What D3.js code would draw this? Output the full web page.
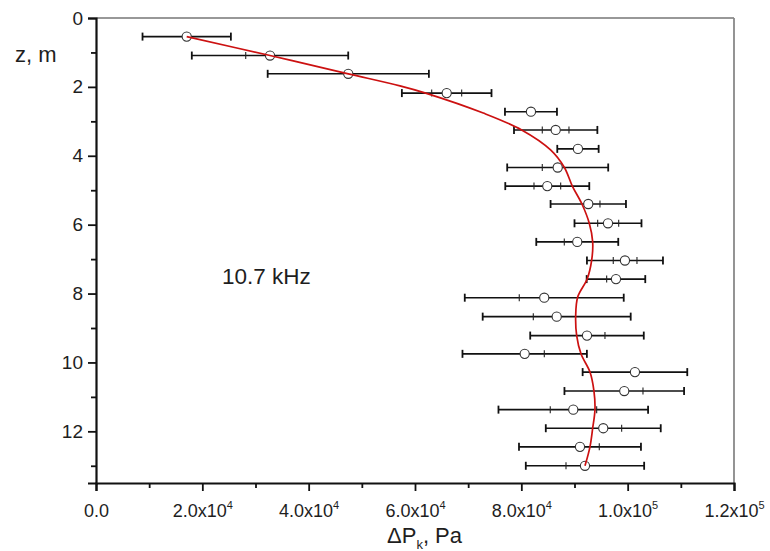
<!DOCTYPE html>
<html>
<head>
<meta charset="utf-8">
<script src="https://cdn.jsdelivr.net/npm/d3@7"></script>
<style>
  body { margin: 0; background: #fff; }
  svg text { font-family: Arial, "Liberation Sans", sans-serif; fill: #1e1e1e; }
</style>
</head>
<body>
<script>
var width = 770,
  height = 551;

var margin = { top: 18, right: 36, bottom: 68, left: 96 };

// measured points: depth (m), pressure (Pa), full error half-width (Pa)
var depth = [0.54, 1.09, 1.62, 2.18, 2.72, 3.25, 3.80, 4.34, 4.88, 5.40, 5.96, 6.50,
  7.04, 7.58, 8.12, 8.67, 9.22, 9.75, 10.28, 10.83, 11.37, 11.91, 12.45, 13.00];
var pressure = [17060, 32730, 47450, 65960, 81810, 86460, 90650, 86840, 84880, 92590, 96300, 90520,
  99490, 97800, 84310, 86650, 92350, 80630, 101370, 99360, 89770, 95410, 91030, 91970];
var errFull = [8310, 14710, 15160, 8430, 4890, 7840, 3890, 9500, 7900, 7090, 6300, 7710,
  7150, 5510, 14950, 13920, 10680, 11700, 9840, 11250, 14070, 10810, 11470, 11130];

// small inner ticks on the bars (null = not visible)
var innerLo = [null, 28160, null, 63140, null, 83940, null, 83940, 82380, null, 94360, 88080,
  97290, 96050, 79610, 82250, null, null, null, null, 85440, null, null, 88400];
var innerHi = [null, null, null, 68780, null, 88960, null, null, 87400, 94790, 98310, null,
  101750, null, null, null, 95730, 84320, null, 102880, 94170, 98870, 94660, null];

// red curve
var curveDepth = [0.54, 1.09, 1.62, 1.97, 2.18, 2.76, 3.25, 3.83, 4.34, 4.88, 5.40, 5.96, 6.50,
  7.03, 7.57, 8.10, 8.67, 9.22, 9.75, 10.28, 10.83, 11.37, 11.91, 12.45, 13.00];
var curvePressure = [17060, 32730, 47450, 57170, 62000, 72840, 80060, 85500, 88100, 89590, 91400, 92780, 93420,
  93230, 92400, 90600, 90220, 90410, 91220, 92910, 93660, 93850, 93420, 92910, 91970];

var xTicks = [0, 20000, 40000, 60000, 80000, 100000, 120000];
var xTickBase = ["0.0", "2.0x10", "4.0x10", "6.0x10", "8.0x10", "1.0x10", "1.2x10"];
var xTickExp = ["", "4", "4", "4", "4", "5", "5"];
var xMinor = [10000, 30000, 50000, 70000, 90000, 110000];
var yTicks = [0, 2, 4, 6, 8, 10, 12];
var yMinor = [1, 3, 5, 7, 9, 11, 13];

var x = d3.scaleLinear()
  .domain([0, 120000])
  .range([margin.left, width - margin.right]);

var y = d3.scaleLinear()
  .domain([0, 13.5])
  .range([margin.top, height - margin.bottom]);

var svg = d3.select("body")
  .append("svg")
  .attr("width", width)
  .attr("height", height);

// frame: top and right
svg.append("line")
  .attr("x1", x(0)).attr("x2", x(120000))
  .attr("y1", y(0)).attr("y2", y(0))
  .attr("stroke", "#333").attr("stroke-width", 1.2);
svg.append("line")
  .attr("x1", x(120000)).attr("x2", x(120000))
  .attr("y1", y(0)).attr("y2", y(13.5))
  .attr("stroke", "#888").attr("stroke-width", 1.8);

// axes
var yAxis = svg.append("g")
  .attr("transform", "translate(" + x(0) + ",0)")
  .call(d3.axisLeft(y).tickValues(yTicks).tickSize(8).tickPadding(5).tickFormat(d3.format("d")));
var yAxisMinor = svg.append("g")
  .attr("transform", "translate(" + x(0) + ",0)")
  .call(d3.axisLeft(y).tickValues(yMinor).tickSize(5).tickFormat(""));

var xAxis = svg.append("g")
  .attr("transform", "translate(0," + y(13.5) + ")")
  .call(d3.axisBottom(x).tickValues(xTicks).tickSize(8).tickPadding(6).tickFormat(""));
var xAxisMinor = svg.append("g")
  .attr("transform", "translate(0," + y(13.5) + ")")
  .call(d3.axisBottom(x).tickValues(xMinor).tickSize(5).tickFormat(""));

[yAxis, yAxisMinor, xAxis, xAxisMinor].forEach(function (g) {
  g.select(".domain").attr("stroke", "#111").attr("stroke-width", 2.2);
  g.selectAll(".tick line").attr("stroke", "#111").attr("stroke-width", 1.8);
});
yAxisMinor.select(".domain").remove();
xAxisMinor.select(".domain").remove();

yAxis.selectAll(".tick text")
  .attr("font-size", 19)
  .attr("fill", "#1e1e1e");

// x tick labels with superscripts
xAxis.selectAll(".tick").each(function (d, i) {
  var t = d3.select(this).append("text")
    .attr("y", 34)
    .attr("text-anchor", "middle")
    .attr("font-size", 18);
  t.append("tspan").text(xTickBase[i]);
  if (xTickExp[i]) {
    t.append("tspan")
      .attr("dy", -8)
      .attr("font-size", 11)
      .text(xTickExp[i]);
  }
});

// error bars
var bars = svg.append("g")
  .selectAll("g")
  .data(depth)
  .enter()
  .append("g");

bars.append("line")
  .attr("x1", function (d, i) { return x(pressure[i] - errFull[i]); })
  .attr("x2", function (d, i) { return x(pressure[i] + errFull[i]); })
  .attr("y1", function (d) { return y(d); })
  .attr("y2", function (d) { return y(d); })
  .attr("stroke", "#111").attr("stroke-width", 1.6);

[-1, 1].forEach(function (s) {
  bars.append("line")
    .attr("x1", function (d, i) { return x(pressure[i] + s * errFull[i]); })
    .attr("x2", function (d, i) { return x(pressure[i] + s * errFull[i]); })
    .attr("y1", function (d) { return y(d) - 4; })
    .attr("y2", function (d) { return y(d) + 4; })
    .attr("stroke", "#111").attr("stroke-width", 1.8);
});

[innerLo, innerHi].forEach(function (arr) {
  bars.filter(function (d, i) { return arr[i] !== null; })
    .append("line")
    .attr("x1", function (d) { return x(arr[depth.indexOf(d)]); })
    .attr("x2", function (d) { return x(arr[depth.indexOf(d)]); })
    .attr("y1", function (d) { return y(d) - 3.5; })
    .attr("y2", function (d) { return y(d) + 3.5; })
    .attr("stroke", "#222").attr("stroke-width", 1.1);
});

bars.append("circle")
  .attr("cx", function (d, i) { return x(pressure[i]); })
  .attr("cy", function (d) { return y(d); })
  .attr("r", 4.6)
  .attr("fill", "#fff")
  .attr("stroke", "#333")
  .attr("stroke-width", 1.1);

// red curve
var line = d3.line()
  .x(function (d) { return x(d[1]); })
  .y(function (d) { return y(d[0]); })
  .curve(d3.curveCatmullRom.alpha(0.5));

svg.append("path")
  .datum(curveDepth.map(function (d, i) { return [d, curvePressure[i]]; }))
  .attr("fill", "none")
  .attr("stroke", "#cc1111")
  .attr("stroke-width", 1.7)
  .attr("d", line);

// labels
svg.append("text")
  .attr("x", 15).attr("y", 62)
  .attr("font-size", 22)
  .text("z, m");

svg.append("text")
  .attr("x", 222).attr("y", 284)
  .attr("font-size", 22.5)
  .text("10.7 kHz");

var xl = svg.append("text")
  .attr("x", 387).attr("y", 543)
  .attr("font-size", 22);
xl.append("tspan").text("\u0394P");
xl.append("tspan").attr("dy", 6).attr("font-size", 13).text("k");
xl.append("tspan").attr("dy", -6).text(", Pa");
</script>
</body>
</html>
